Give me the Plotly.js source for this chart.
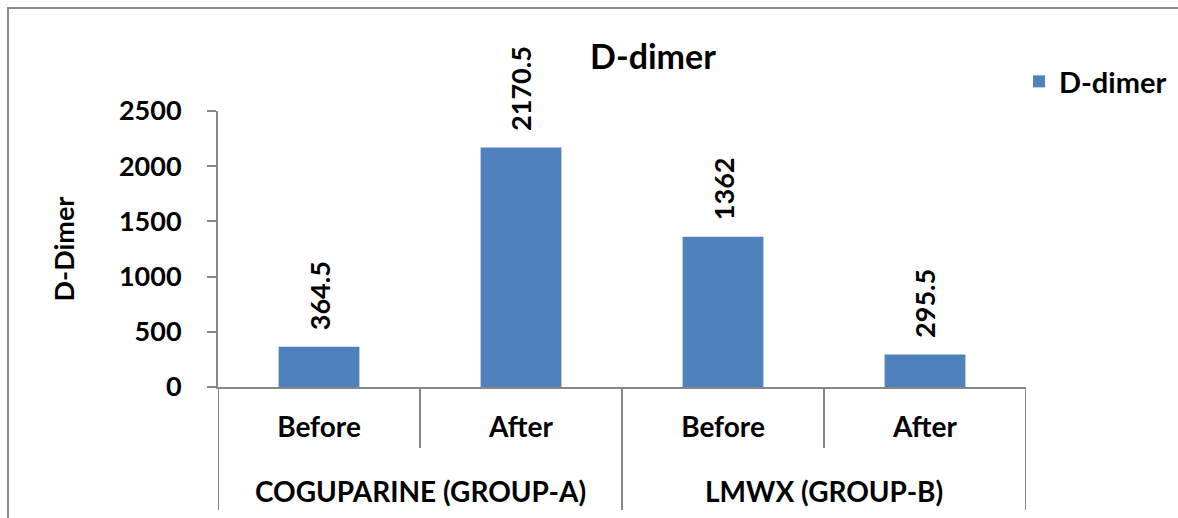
<!DOCTYPE html>
<html>
<head>
<meta charset="utf-8">
<script src="https://cdn.plot.ly/plotly-3.0.1.min.js"></script>
<style>
  html, body { margin: 0; padding: 0; background: #fff; }
  #wrap { position: relative; width: 1178px; height: 518px; overflow: hidden; }
  #chart { width: 1178px; height: 518px; }
  #frame { position: absolute; left: 7px; top: 7px; width: 1200px; height: 600px;
           border: 2px solid #8a8a8a; pointer-events: none; box-sizing: border-box; }
</style>
</head>
<body>
<div id="wrap">
  <div id="chart"></div>
  <div id="frame"></div>
</div>
<script>
// ---- data ----
const groups = ["COGUPARINE (GROUP-A)", "COGUPARINE (GROUP-A)", "LMWX (GROUP-B)", "LMWX (GROUP-B)"];
const phases = ["Before", "After", "Before", "After"];
const dDimer = [364.5, 2170.5, 1362, 295.5];
const seriesName = "D-dimer";
const yTickVals = [0, 500, 1000, 1500, 2000, 2500];

const FONT = "Lato, 'Open Sans', sans-serif";
const GRAY = "#878787";

// category positions (index of each bar)
const xPos = phases.map((_, i) => i);

const trace = {
  type: "bar",
  x: xPos,
  y: dDimer,
  name: seriesName,
  marker: { color: "#4F81BD" },
  width: 0.4,
  hoverinfo: "y"
};

const H = 276; // plot height in px (used for label-row separators below the axis)
const shapes = [];
// separators between categories: group boundaries span both label rows
const boundaries = [];
for (let i = 0; i <= xPos.length; i++) boundaries.push(i - 0.5);
boundaries.forEach((b, i) => {
  const isGroupEdge = i === 0 || i === xPos.length || groups[i] !== groups[i - 1];
  shapes.push({
    type: "line", xref: "x", yref: "paper", x0: b, x1: b, y0: 0,
    y1: isGroupEdge ? -123 / H : -61 / H,
    line: { color: GRAY, width: 2 }
  });
});

// group labels (second row)
const uniqueGroups = [...new Set(groups)];
const groupAnn = uniqueGroups.map(g => {
  const idx = xPos.filter(i => groups[i] === g);
  const center = idx.reduce((a, b) => a + b, 0) / idx.length;
  return {
    text: g, x: center, xref: "x", y: -104 / H, yref: "paper",
    xanchor: "center", yanchor: "middle", showarrow: false,
    font: { family: FONT, size: 28, color: "#000", weight: "bold" }
  };
});

// value labels above the bars
const valueAnn = dDimer.map((v, i) => ({
  text: String(v), x: xPos[i], y: v, xref: "x", yref: "y",
  textangle: -90, xanchor: "center", yanchor: "bottom", yshift: 14,
  showarrow: false,
  font: { family: FONT, size: 27, color: "#000", weight: "bold" }
}));

const layout = {
  width: 1178, height: 518,
  margin: { l: 218, r: 152, t: 111, b: 131, autoexpand: false },
  paper_bgcolor: "#fff", plot_bgcolor: "#fff",
  font: { family: FONT, color: "#000" },
  title: {
    text: "D-dimer",
    font: { family: FONT, size: 34, color: "#000", weight: "bold" },
    xref: "container", x: 653 / 1178, xanchor: "center",
    yref: "container", y: 1 - 57 / 518, yanchor: "middle"
  },
  showlegend: true,
  legend: {
    xref: "container", x: 1019 / 1178, xanchor: "left",
    yref: "container", y: 1 - 56 / 518, yanchor: "top",
    font: { family: FONT, size: 29, color: "#000", weight: "bold" },
    itemwidth: 30, bgcolor: "rgba(0,0,0,0)"
  },
  xaxis: {
    type: "linear", range: [-0.5, xPos.length - 0.5], autorange: false,
    tickmode: "array", tickvals: xPos, ticktext: phases,
    showline: true, linecolor: GRAY, linewidth: 2,
    ticks: "", showgrid: false, zeroline: false,
    ticklabelstandoff: 14,
    tickfont: { family: FONT, size: 28, color: "#000", weight: "bold" }
  },
  yaxis: {
    range: [0, 2500], autorange: false,
    tickvals: yTickVals, ticktext: yTickVals.map(String),
    showline: true, linecolor: GRAY, linewidth: 2,
    ticks: "outside", ticklen: 9, tickcolor: GRAY, tickwidth: 2,
    showgrid: false, zeroline: false,
    ticklabelstandoff: 20,
    tickfont: { family: FONT, size: 27, color: "#000", weight: "bold" },
    title: { text: "D-Dimer", standoff: 37, font: { family: FONT, size: 27, color: "#000", weight: "bold" } }
  },
  shapes: shapes,
  annotations: groupAnn.concat(valueAnn)
};

Plotly.newPlot("chart", [trace], layout, { displayModeBar: false, staticPlot: true });
</script>
</body>
</html>
